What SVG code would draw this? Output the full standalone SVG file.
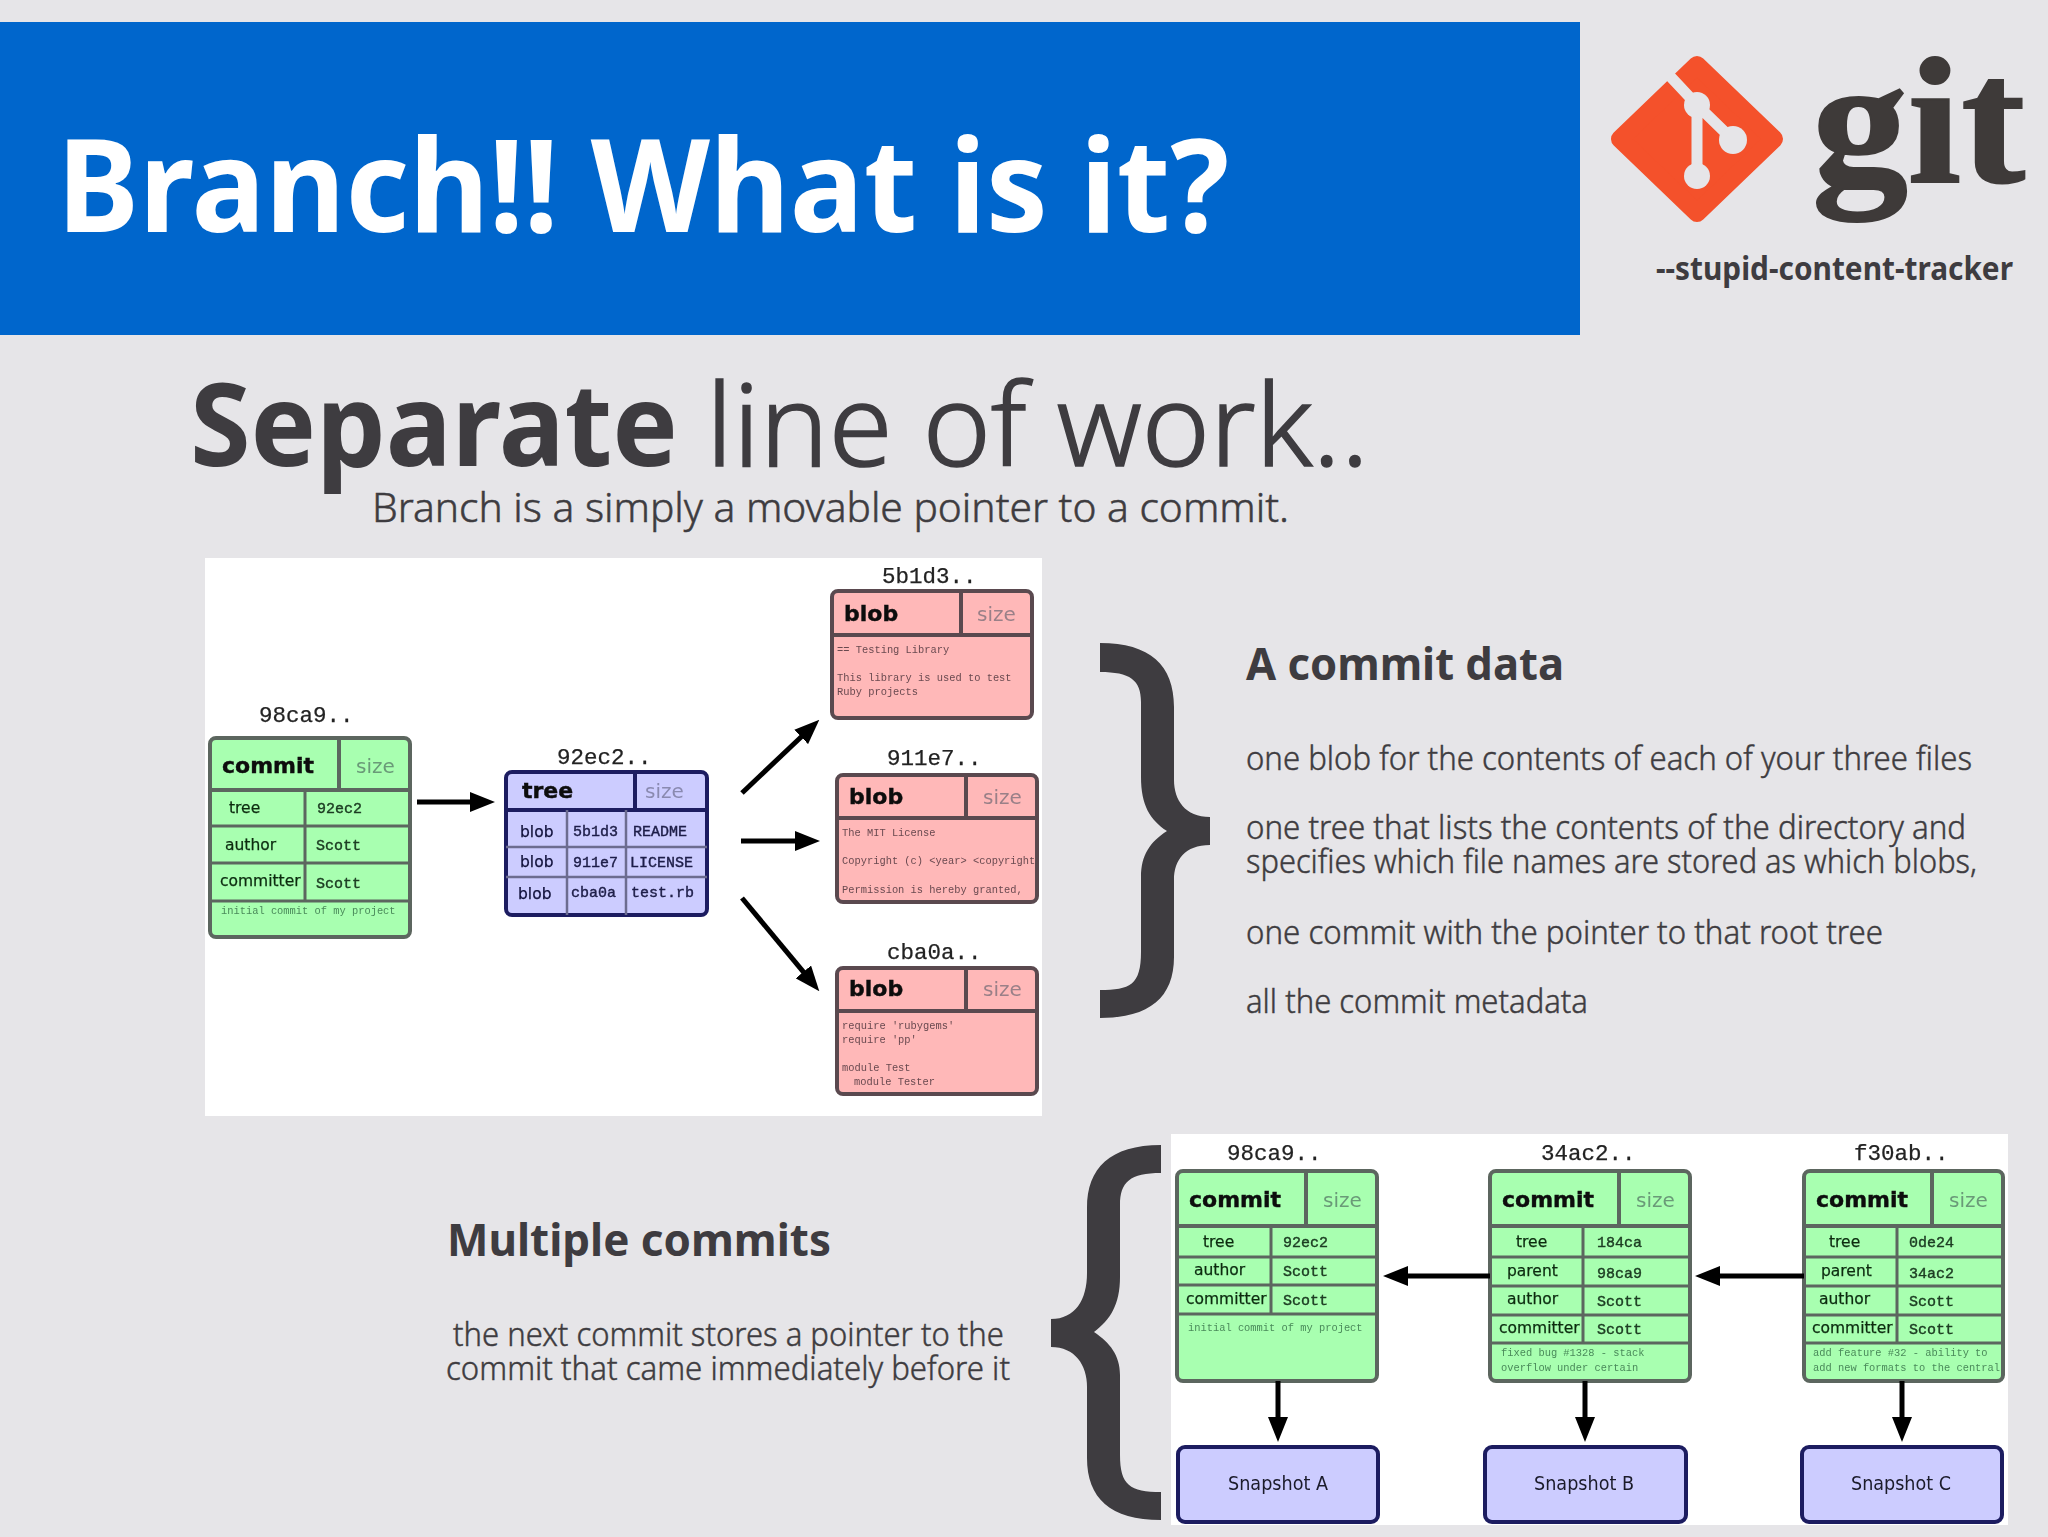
<svg xmlns="http://www.w3.org/2000/svg" width="2048" height="1537" viewBox="0 0 2048 1537">
<style>
text{white-space:pre}
.h{font-family:"Noto Sans","Open Sans",sans-serif;fill:#3e3c40}
.b{font-weight:700}
.l{font-weight:300;stroke:#3e3c40;stroke-width:1.6}
.sub{font-weight:300;font-size:40px;stroke:#3e3c40;stroke-width:.5}
.body{font-size:33px;font-weight:300;stroke:#3e3c40;stroke-width:.45}
.head{font-size:44px;font-weight:700}
.hash{font-family:"Liberation Mono",monospace;font-size:22.5px;fill:#222;stroke:#222;stroke-width:.25}
.title{font-family:"DejaVu Sans",sans-serif;font-weight:700;font-size:22px;fill:#0c0c0c;stroke:#0c0c0c;stroke-width:.4}
.size{font-family:"DejaVu Sans",sans-serif;font-size:20px}
.lab{font-family:"DejaVu Sans",sans-serif;font-size:15.5px;fill:#0c2c10;stroke:#0c2c10;stroke-width:.25}
.labb{font-family:"DejaVu Sans",sans-serif;font-size:15.5px;fill:#10103a;stroke:#10103a;stroke-width:.25}
.val{font-family:"Liberation Mono",monospace;font-size:15px;fill:#1c3c22;stroke:#1c3c22;stroke-width:.4}
.valb{font-family:"Liberation Mono",monospace;font-size:15px;fill:#20204a;stroke:#20204a;stroke-width:.4}
.sm{font-family:"Liberation Mono",monospace;font-size:10.4px}
.snap{font-family:"DejaVu Sans",sans-serif;font-size:20px;fill:#1a1a2a;text-anchor:middle}
.gbox{fill:#a8ffb0;stroke:#5c665e;stroke-width:4}
.pbox{fill:#ffb8b8;stroke:#5a4a50;stroke-width:4}
.vbox{fill:#ccccff;stroke:#1c1c60;stroke-width:4}
.gl{stroke:#5c665e;stroke-width:4;fill:none}
.pl{stroke:#5a4a50;stroke-width:4;fill:none}
.vl{stroke:#1c1c60;stroke-width:4;fill:none}
.vt{stroke:#6c6c90;stroke-width:2.5;fill:none}
.arrow{stroke:#000;stroke-width:5;fill:none;marker-end:url(#ah)}
.brace{fill:#3e3c40}
.soft{filter:url(#soft)}
</style>
<defs>
<marker id="ah" markerUnits="userSpaceOnUse" viewBox="0 0 25 20" refX="1" refY="10" markerWidth="25" markerHeight="20" orient="auto"><path d="M0 0L25 10L0 20Z" fill="#000"/></marker>
<filter id="soft" x="-5%" y="-5%" width="110%" height="110%"><feGaussianBlur stdDeviation="0.45"/></filter>
</defs>
<rect width="2048" height="1537" fill="#e6e5e8"/>
<g id="banner"><rect x="0" y="22" width="1580" height="313" fill="#0066cc"/>
<text x="57" y="232" font-family="Noto Sans, sans-serif" font-weight="700" font-size="130" fill="#fff" textLength="1172" lengthAdjust="spacingAndGlyphs">Branch!! What is it?</text></g>
<g id="git-logo">
<polygon points="1697,65 1774,139 1697,213 1620,139" fill="#f4512b" stroke="#f4512b" stroke-width="18" stroke-linejoin="round"/>
<path d="M1668 74L1697 105L1733 140M1697 105V176" stroke="#e6e5e8" stroke-width="11" fill="none"/>
<circle cx="1697" cy="105" r="13" fill="#e6e5e8"/><circle cx="1733" cy="140" r="14" fill="#e6e5e8"/><circle cx="1697" cy="176" r="13" fill="#e6e5e8"/>
<text x="1812" y="182" font-family="Liberation Serif, serif" font-weight="700" font-size="180" fill="#3e3a39" stroke="#3e3a39" stroke-width="2" textLength="213" lengthAdjust="spacingAndGlyphs">git</text>
<text class="h b" x="1656" y="280" font-size="32" textLength="357" lengthAdjust="spacingAndGlyphs">--stupid-content-tracker</text>
</g>
<g id="heading">
<text class="h" y="466" font-size="115"><tspan class="b" x="190" textLength="488" lengthAdjust="spacingAndGlyphs">Separate</tspan><tspan class="l" x="706" textLength="663" lengthAdjust="spacingAndGlyphs">line of work..</tspan></text>
<text class="h sub" x="372" y="522" textLength="917" lengthAdjust="spacingAndGlyphs">Branch is a simply a movable pointer to a commit.</text>
</g>
<g id="commit-data-text">
<text class="h head" x="1246" y="680" textLength="318" lengthAdjust="spacingAndGlyphs">A commit data</text>
<text class="h body" x="1246" y="770" textLength="726" lengthAdjust="spacingAndGlyphs">one blob for the contents of each of your three files</text>
<text class="h body" x="1246" y="839" textLength="720" lengthAdjust="spacingAndGlyphs">one tree that lists the contents of the directory and</text>
<text class="h body" x="1246" y="873" textLength="731" lengthAdjust="spacingAndGlyphs">specifies which file names are stored as which blobs,</text>
<text class="h body" x="1246" y="944" textLength="637" lengthAdjust="spacingAndGlyphs">one commit with the pointer to that root tree</text>
<text class="h body" x="1246" y="1013" textLength="342" lengthAdjust="spacingAndGlyphs">all the commit metadata</text>
</g>
<g id="multiple-commits-text">
<text class="h head" x="447" y="1256" textLength="384" lengthAdjust="spacingAndGlyphs">Multiple commits</text>
<text class="h body" x="453" y="1346" textLength="551" lengthAdjust="spacingAndGlyphs">the next commit stores a pointer to the</text>
<text class="h body" x="446" y="1380" textLength="564" lengthAdjust="spacingAndGlyphs">commit that came immediately before it</text>
</g>
<path id="brace-right" class="brace" d="M1100 643C1150 643 1174 665 1174 707V780C1174 800 1185 817 1210 817V845C1185 845 1174 860 1174 880V957C1174 997 1150 1018 1100 1018V990C1130 990 1141 985 1141 952V877C1141 855 1150 842 1167 831C1150 820 1141 805 1141 777V702C1141 680 1130 672 1100 672Z"/>
<path id="brace-left" class="brace" d="M1161 1145C1110 1145 1087 1168 1087 1208V1273C1087 1300 1075 1319 1051 1319V1347C1075 1347 1087 1365 1087 1387V1458C1087 1498 1110 1520 1161 1520V1492C1130 1492 1120 1485 1120 1455V1375C1120 1355 1110 1343 1094 1332C1110 1320 1120 1305 1120 1277V1205C1120 1182 1130 1173 1161 1173Z"/>
<rect id="panel-top" x="205" y="558" width="837" height="558" fill="#fff"/>
<rect id="panel-bottom" x="1171" y="1134" width="837" height="391" fill="#fff"/>

<g id="commit-98ca9" class="soft">
<text class="hash" x="259" y="722">98ca9..</text>
<rect class="gbox" x="210" y="738" width="200" height="199" rx="6"/>
<path class="gl" d="M339 738V790M210 790H410"/><path class="gl" d="M210 826H410M212 863H410M210 901H410M305 790V901" style="stroke-width:3"/>
<text class="title" x="222" y="773">commit</text><text class="size" x="356" y="773" fill="#6a9a78">size</text>
<text class="lab" x="229" y="813">tree</text><text class="val" x="317" y="813">92ec2</text>
<text class="lab" x="225" y="850">author</text><text class="val" x="316" y="850">Scott</text>
<text class="lab" x="220" y="886">committer</text><text class="val" x="316" y="888">Scott</text>
<text class="sm" x="221" y="914" fill="#4a8a5a">initial commit of my project</text>
</g>
<g id="tree-92ec2" class="soft">
<text class="hash" x="557" y="764">92ec2..</text>
<rect class="vbox" x="506" y="772" width="201" height="143" rx="6"/>
<path class="vl" d="M635 772V810M506 810H707"/><path class="vt" d="M506 847H707M506 877H707M567 810V915M626 810V915"/>
<text class="title" x="522" y="798">tree</text><text class="size" x="645" y="798" fill="#8a8ab0">size</text>
<text class="labb" x="520" y="837">blob</text><text class="valb" x="573" y="836">5b1d3</text><text class="valb" x="633" y="836">README</text>
<text class="labb" x="520" y="867">blob</text><text class="valb" x="573" y="867">911e7</text><text class="valb" x="630" y="867">LICENSE</text>
<text class="labb" x="518" y="899">blob</text><text class="valb" x="571" y="897">cba0a</text><text class="valb" x="631" y="897">test.rb</text>
</g>
<g id="blob-5b1d3" class="soft">
<text class="hash" x="882" y="583">5b1d3..</text>
<rect class="pbox" x="832" y="591" width="200" height="127" rx="6"/>
<path class="pl" d="M961 591V635M832 635H1032"/>
<text class="title" x="844" y="621">blob</text><text class="size" x="977" y="621" fill="#9a8088">size</text>
<text class="sm" x="837" y="653" fill="#6a4a50">== Testing Library</text>
<text class="sm" x="837" y="681" fill="#6a4a50">This library is used to test</text>
<text class="sm" x="837" y="695" fill="#6a4a50">Ruby projects</text>
</g>
<g id="blob-911e7" class="soft">
<text class="hash" x="887" y="765">911e7..</text>
<rect class="pbox" x="837" y="775" width="200" height="127" rx="6"/>
<path class="pl" d="M966 775V818M837 818H1037"/>
<text class="title" x="849" y="804">blob</text><text class="size" x="983" y="804" fill="#9a8088">size</text>
<text class="sm" x="842" y="836" fill="#6a4a50">The MIT License</text>
<text class="sm" x="842" y="864" fill="#6a4a50">Copyright (c) &lt;year&gt; &lt;copyright</text>
<text class="sm" x="842" y="893" fill="#6a4a50">Permission is hereby granted,</text>
</g>
<g id="blob-cba0a" class="soft">
<text class="hash" x="887" y="959">cba0a..</text>
<rect class="pbox" x="837" y="968" width="200" height="126" rx="6"/>
<path class="pl" d="M966 968V1011M837 1011H1037"/>
<text class="title" x="849" y="996">blob</text><text class="size" x="983" y="996" fill="#9a8088">size</text>
<text class="sm" x="842" y="1029" fill="#6a4a50">require 'rubygems'</text>
<text class="sm" x="842" y="1043" fill="#6a4a50">require 'pp'</text>
<text class="sm" x="842" y="1071" fill="#6a4a50">module Test</text>
<text class="sm" x="854" y="1085" fill="#6a4a50">module Tester</text>
</g>

<g id="commit2-98ca9" class="soft">
<text class="hash" x="1227" y="1160">98ca9..</text>
<rect class="gbox" x="1177" y="1171" width="200" height="210" rx="6"/>
<path class="gl" d="M1306 1171V1226M1177 1226H1377"/><path class="gl" d="M1177 1257H1377M1177 1285H1377M1177 1314H1377M1271 1226V1314" style="stroke-width:3"/>
<text class="title" x="1189" y="1207">commit</text><text class="size" x="1323" y="1207" fill="#6a9a78">size</text>
<text class="lab" x="1203" y="1247">tree</text><text class="val" x="1283" y="1247">92ec2</text>
<text class="lab" x="1194" y="1275">author</text><text class="val" x="1283" y="1276">Scott</text>
<text class="lab" x="1186" y="1304">committer</text><text class="val" x="1283" y="1305">Scott</text>
<text class="sm" x="1188" y="1331" fill="#4a8a5a">initial commit of my project</text>
</g>
<g id="commit-34ac2" class="soft">
<text class="hash" x="1541" y="1160">34ac2..</text>
<rect class="gbox" x="1490" y="1171" width="200" height="210" rx="6"/>
<path class="gl" d="M1619 1171V1226M1490 1226H1690"/><path class="gl" d="M1490 1257H1690M1490 1286H1690M1490 1315H1690M1490 1343H1690M1583 1226V1343" style="stroke-width:3"/>
<text class="title" x="1502" y="1207">commit</text><text class="size" x="1636" y="1207" fill="#6a9a78">size</text>
<text class="lab" x="1516" y="1247">tree</text><text class="val" x="1597" y="1247">184ca</text>
<text class="lab" x="1507" y="1276">parent</text><text class="val" x="1597" y="1278">98ca9</text>
<text class="lab" x="1507" y="1304">author</text><text class="val" x="1597" y="1306">Scott</text>
<text class="lab" x="1499" y="1333">committer</text><text class="val" x="1597" y="1334">Scott</text>
<text class="sm" x="1501" y="1356" fill="#4a8a5a">fixed bug #1328 - stack</text>
<text class="sm" x="1501" y="1371" fill="#4a8a5a">overflow under certain</text>
</g>
<g id="commit-f30ab" class="soft">
<text class="hash" x="1854" y="1160">f30ab..</text>
<rect class="gbox" x="1804" y="1171" width="199" height="210" rx="6"/>
<path class="gl" d="M1932 1171V1226M1804 1226H2003"/><path class="gl" d="M1804 1257H2003M1804 1286H2003M1804 1315H2003M1804 1343H2003M1897 1226V1343" style="stroke-width:3"/>
<text class="title" x="1816" y="1207">commit</text><text class="size" x="1949" y="1207" fill="#6a9a78">size</text>
<text class="lab" x="1829" y="1247">tree</text><text class="val" x="1909" y="1247">0de24</text>
<text class="lab" x="1821" y="1276">parent</text><text class="val" x="1909" y="1278">34ac2</text>
<text class="lab" x="1819" y="1304">author</text><text class="val" x="1909" y="1306">Scott</text>
<text class="lab" x="1812" y="1333">committer</text><text class="val" x="1909" y="1334">Scott</text>
<text class="sm" x="1813" y="1356" fill="#4a8a5a">add feature #32 - ability to</text>
<text class="sm" x="1813" y="1371" fill="#4a8a5a">add new formats to the central</text>
</g>
<g id="snapshot-a" class="soft"><rect class="vbox" x="1178" y="1447" width="200" height="75" rx="7"/><text class="snap" x="1278" y="1490" textLength="100" lengthAdjust="spacingAndGlyphs">Snapshot A</text></g>
<g id="snapshot-b" class="soft"><rect class="vbox" x="1485" y="1447" width="201" height="75" rx="7"/><text class="snap" x="1584" y="1490" textLength="100" lengthAdjust="spacingAndGlyphs">Snapshot B</text></g>
<g id="snapshot-c" class="soft"><rect class="vbox" x="1802" y="1447" width="200" height="75" rx="7"/><text class="snap" x="1901" y="1490" textLength="100" lengthAdjust="spacingAndGlyphs">Snapshot C</text></g>

<g id="connectors">
<path class="arrow" d="M417 802H471"/>
<path class="arrow" d="M742 793L801.9 736.2"/>
<path class="arrow" d="M741 841H796"/>
<path class="arrow" d="M742 898L804 972.7"/>
<path class="arrow" d="M1490 1276H1407"/>
<path class="arrow" d="M1804 1276H1719"/>
<path class="arrow" d="M1278 1381V1418"/>
<path class="arrow" d="M1585 1381V1418"/>
<path class="arrow" d="M1902 1381V1418"/>
</g>
</svg>
